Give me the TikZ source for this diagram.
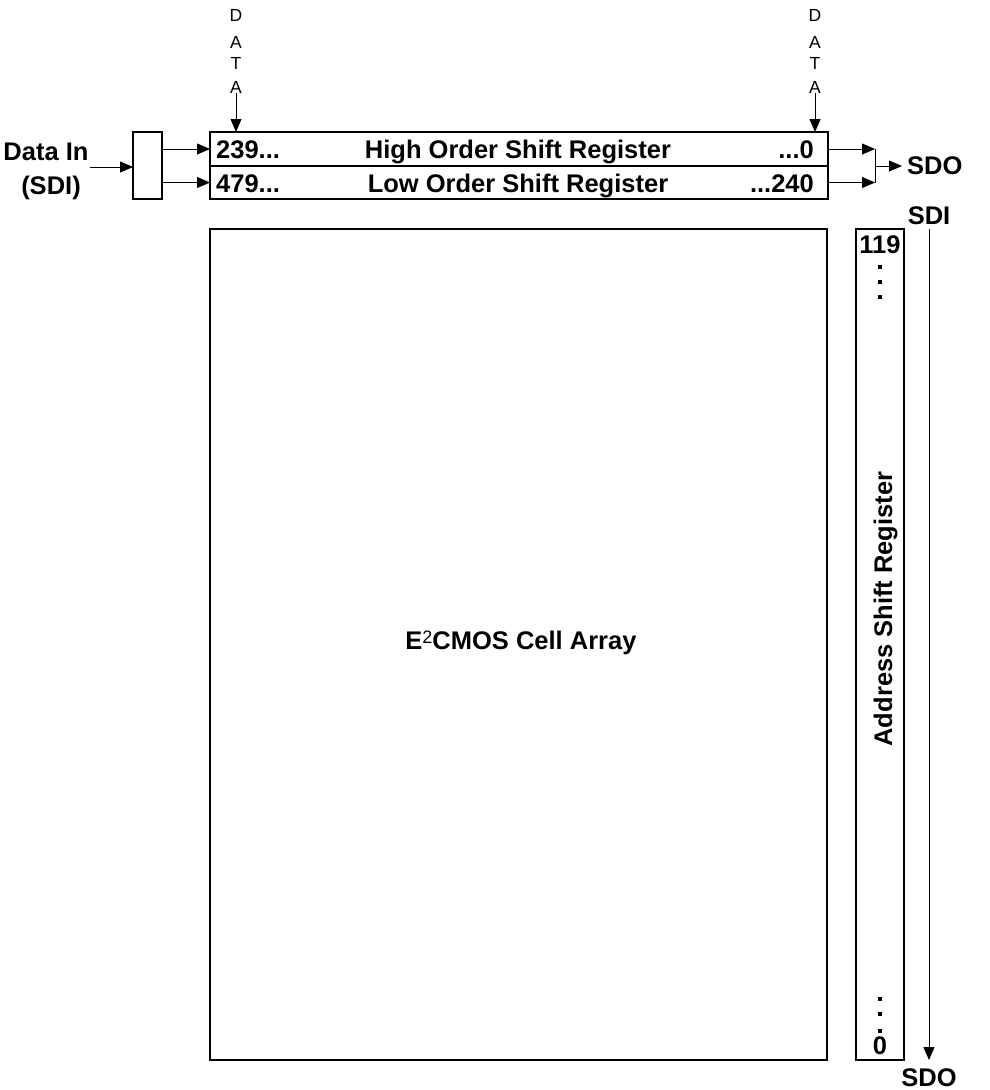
\documentclass[tikz,border=0pt]{standalone}
\usepackage{fontspec}
\setmainfont{Liberation Sans}
\usetikzlibrary{arrows.meta,calc}
\begin{document}
\begin{tikzpicture}[x=1pt,y=-1pt,
  box/.style={draw,line width=1.1pt,inner sep=0pt,outer sep=0pt,anchor=north west},
  arr/.style={line width=0.8pt,-{Triangle[length=13pt,width=11pt]}},
  wire/.style={line width=0.8pt},
  lbl/.style={font=\fontsize{25.5}{28}\selectfont\bfseries,inner sep=0pt},
  dat/.style={font=\fontsize{17.5}{18}\selectfont,inner sep=0pt},
  dotsq/.style={fill,inner sep=0pt,minimum size=4pt}]
\useasboundingbox (0,0) rectangle (990,1090);
% boxes
\node[box,minimum width=29pt,minimum height=67pt] (mux) at (133,132) {};
\node[box,minimum width=618pt,minimum height=34pt] (hi) at (210,132) {};
\node[box,minimum width=618pt,minimum height=33pt] (lo) at (210,166) {};
\node[box,line width=1.6pt,minimum width=617pt,minimum height=831pt] (cell) at (210,229) {};
\node[box,minimum width=48pt,minimum height=831pt] (addr) at (856,229) {};
% register labels
\node[lbl,anchor=base west] (h1) at (216,158) {239...};
\node[lbl,anchor=base] (h2) at (518,158) {High Order Shift Register};
\node[lbl,anchor=base east] (h3) at (814,158) {...0};
\node[lbl,anchor=base west] (l1) at (216,192) {479...};
\node[lbl,anchor=base] (l2) at (518,192) {Low Order Shift Register};
\node[lbl,anchor=base east] (l3) at (814,192) {...240};
% data in
\node[lbl,anchor=base] (din) at (46,160) {Data In};
\node[lbl,anchor=base] (dinb) at (51,194) {(SDI)};
\coordinate (dinS) at (90,167);
\draw[arr] (dinS) -- (dinS -| mux.west);
\draw[arr] (mux.east |- hi.west) -- (hi.west);
\draw[arr] (mux.east |- lo.west) -- (lo.west);
% output join
\coordinate (join) at (875,166);
\draw[arr] (hi.east) -- (hi.east -| join);
\draw[arr] (lo.east) -- (lo.east -| join);
\draw[wire] (hi.east -| join) -- (lo.east -| join);
\node[lbl,anchor=west] (sdo1) at (907,166) {SDO};
\draw[arr,shorten >=5pt] (join) -- (sdo1.west);
% DATA left
\node[dat] (da1) at (236,15) {D};
\node[dat] (da2) at (236,42) {A};
\node[dat] (da3) at (236,63) {T};
\node[dat] (da4) at (236,87) {A};
\draw[arr] (da4.south) -- (da4.south |- hi.north);
% DATA right
\node[dat] (db1) at (815,15) {D};
\node[dat] (db2) at (815,42) {A};
\node[dat] (db3) at (815,63) {T};
\node[dat] (db4) at (815,87) {A};
\draw[arr] (db4.south) -- (db4.south |- hi.north);
% cell array label
\node[lbl,anchor=base] (ct) at (521,649) {E\raisebox{5.5pt}{\fontsize{18}{18}\selectfont\mdseries 2}CMOS Cell Array};
% address register
\node[lbl] (a119) at (880,245) {119};
\node[dotsq] (ad1) at (880,267) {};
\node[dotsq] (ad2) at (880,282) {};
\node[dotsq] (ad3) at (880,297) {};
\node[dotsq] (ad4) at (880,999) {};
\node[dotsq] (ad5) at (880,1014) {};
\node[dotsq] (ad6) at (880,1031) {};
\node[lbl] (a0) at (880,1046) {0};
\node[lbl,rotate=90,anchor=base] (alab) at (892,609) {Address Shift Register};
\node[lbl] (sdi2) at (929,216) {SDI};
\node[lbl] (sdo2) at (929,1078) {SDO};
\draw[arr] (sdi2.south |- addr.north) -- (sdo2.north |- addr.south);
\end{tikzpicture}
\end{document}
